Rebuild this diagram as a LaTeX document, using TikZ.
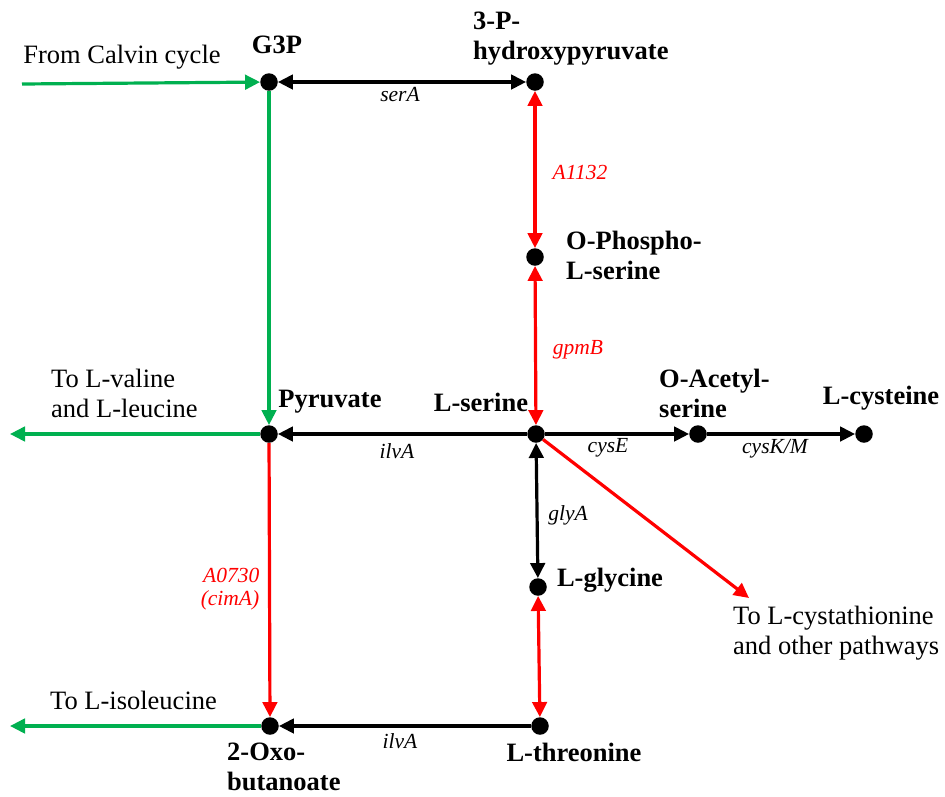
\documentclass[tikz,border=0pt]{standalone}
\usepackage{fontspec}
\setmainfont{Liberation Serif}
\usetikzlibrary{arrows.meta}
\definecolor{pgreen}{RGB}{0,176,80}
\definecolor{pred}{RGB}{255,0,0}
\begin{document}
\begin{tikzpicture}[x=1pt,y=-1pt,
 dot/.style={circle,fill=black,inner sep=0,minimum size=17.5pt},
 met/.style={font=\fontsize{26.5}{30}\selectfont\bfseries, inner sep=0},
 txt/.style={font=\fontsize{26.5}{30}\selectfont, inner sep=0},
 enz/.style={font=\fontsize{21.5}{23}\selectfont\itshape, inner sep=0},
 conn/.style={line width=3.2pt, -{Triangle[length=15pt,width=14.5pt]}},
 both/.style={line width=3.2pt, {Triangle[length=15pt,width=14.5pt]}-{Triangle[length=15pt,width=14.5pt]}},
]
\useasboundingbox (0,0) rectangle (945,796);
% metabolite dots
\node[dot] (g3p) at (269,82) {};
\node[dot] (hp) at (535,82) {};
\node[dot] (ops) at (535,257) {};
\node[dot] (ser) at (536,434) {};
\node[dot] (pyr) at (269,434) {};
\node[dot] (oas) at (698,434) {};
\node[dot] (cys) at (864,434) {};
\node[dot] (gly) at (538,587) {};
\node[dot] (thr) at (540,726) {};
\node[dot] (oxo) at (270,726) {};
\coordinate (calvin) at (22,84);
\coordinate (valleu) at (10,434);
\coordinate (ile) at (10,726);
\coordinate (cysta) at (749,598);
% connectors
\draw[both] (g3p) -- (hp);
\draw[both,pred] (hp) -- (ops);
\draw[both,pred] (ops) -- (ser);
\draw[conn] (ser) -- (pyr);
\draw[conn] (ser) -- (oas);
\draw[conn] (oas) -- (cys);
\draw[both] (ser) -- (gly);
\draw[both,pred] (gly) -- (thr);
\draw[conn] (thr) -- (oxo);
\draw[conn,pred] (pyr) -- (oxo);
\draw[conn,pgreen] (g3p) -- (pyr);
\draw[conn,pgreen] (calvin) -- (g3p);
\draw[conn,pgreen] (pyr) -- (valleu);
\draw[conn,pgreen] (oxo) -- (ile);
\draw[conn,pred] (ser) -- (cysta);
% metabolite labels
\node[txt] (tcalvin) at (122,57) {From Calvin cycle};
\node[met] (lg3p) at (277,45) {G3P};
\node[met, anchor=west, align=left] (lhp) at (473,39) {3-P-\\hydroxypyruvate};
\node[met, anchor=west, align=left] (lops) at (566,255) {O-Phospho-\\L-serine};
\node[met] (lpyr) at (330,402) {Pyruvate};
\node[met] (lser) at (481,402) {L-serine};
\node[met, anchor=west, align=left] (loas) at (659,393) {O-Acetyl-\\serine};
\node[met] (lcys) at (881,398) {L-cysteine};
\node[met] (lgly) at (610,580) {L-glycine};
\node[met] (lthr) at (574,752) {L-threonine};
\node[met, anchor=west, align=left] (loxo) at (227,767) {2-Oxo-\\butanoate};
\node[txt, anchor=west, align=left] (tvl) at (51,393) {To L-valine\\and L-leucine};
\node[txt, anchor=west] (tile) at (50,700) {To L-isoleucine};
\node[txt, anchor=west, align=left] (tcysta) at (733,633) {To L-cystathionine\\and other pathways};
% enzyme labels
\node[enz] (eserA) at (400,95) {serA};
\node[enz,pred] (eA1132) at (580,172) {A1132};
\node[enz,pred] (egpmB) at (578,350) {gpmB};
\node[enz] (eilvA1) at (397,451) {ilvA};
\node[enz] (ecysE) at (608,448) {cysE};
\node[enz] (ecysKM) at (775,449) {cysK/M};
\node[enz] (eglyA) at (568,515) {glyA};
\node[enz,pred,align=right] (eA0730) at (230,589) {A0730\\(cimA)};
\node[enz] (eilvA2) at (400,741) {ilvA};
\end{tikzpicture}
\end{document}
